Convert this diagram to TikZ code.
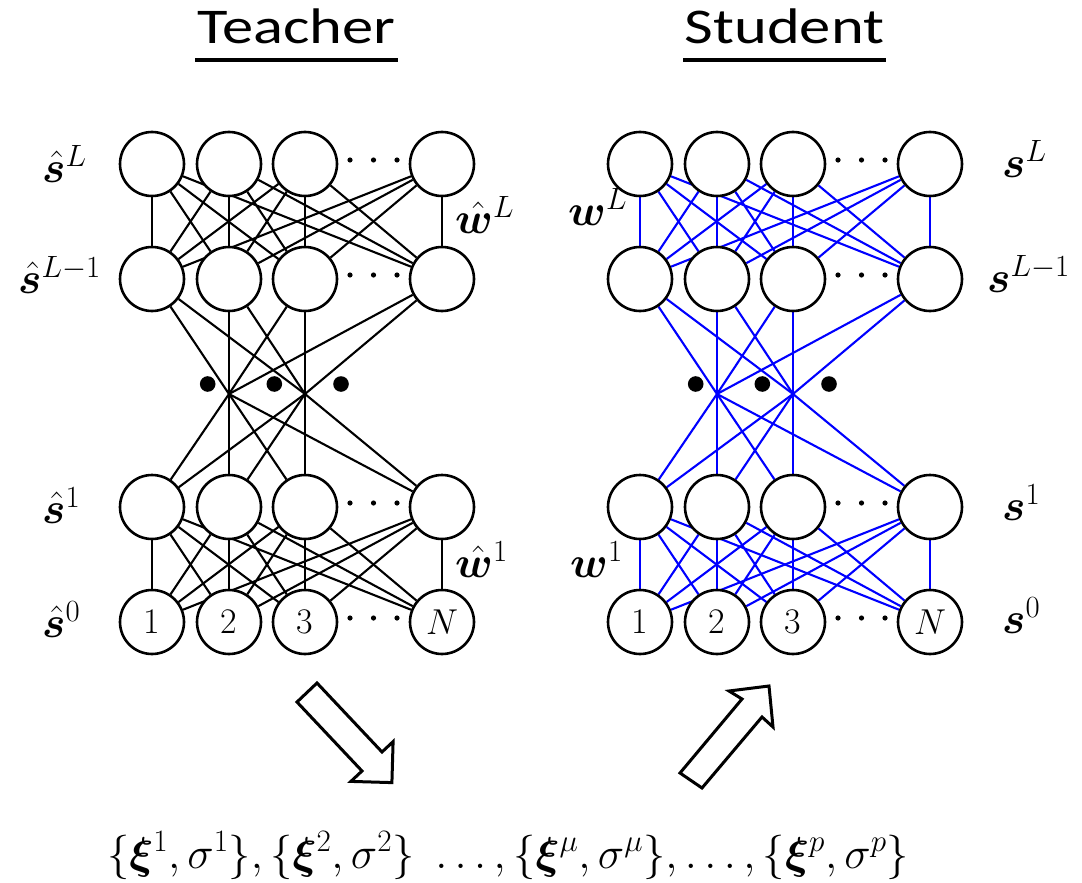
\RequirePackage{fix-cm}
\documentclass[tikz,border=0pt]{standalone}
\usepackage{fontspec}
\usepackage{amsmath}
\usepackage{bm}
\usepackage{graphicx}
\newfontfamily\calibri{Carlito}
\pgfdeclarelayer{edges}
\pgfsetlayers{edges,main}
\begin{document}
\begin{tikzpicture}[x=1pt,y=-1pt,
  neuron/.style={circle,draw,line width=2.6pt,minimum size=64pt,inner sep=0pt,fill=white,font=\fontsize{36}{40}\selectfont},
  wire/.style={line width=2.1pt},
  lbl/.style={inner sep=0pt,font=\fontsize{44}{50}\selectfont},
  title/.style={inner sep=0pt,anchor=base,font=\calibri\fontsize{50}{60}\selectfont},
  bigarrow/.style={draw,line width=3pt,line join=miter,fill=white}
]
\useasboundingbox (0,0) rectangle (1082,883);

% neurons
\foreach \n/\o in {t/0,s/488}{
  \foreach \r/\y in {A/164,B/279,C/507}{
    \foreach \c/\x in {1/152,2/229,3/305,4/442}{
      \node[neuron] (\n\r\c) at (\x+\o,\y) {};
    }
  }
  \node[neuron] (\n D1) at (152+\o,622) {1};
  \node[neuron] (\n D2) at (229+\o,622) {2};
  \node[neuron] (\n D3) at (305+\o,622) {3};
  \node[neuron] (\n D4) at (442+\o,622) {$N$};
  \coordinate (\n P1) at (229+\o,394);
  \coordinate (\n P2) at (305+\o,394);
  % small dots between neuron 3 and N
  \foreach \y in {160,275,503,618}{
    \foreach \x in {350,373.5,397}{
      \fill (\x+\o,\y) circle (2.6pt);
    }
  }
  % big vertical dots
  \foreach \x in {207.7,274.3,341}{
    \fill (\x+\o,384) circle (7.8pt);
  }
}

% connections
\begin{pgfonlayer}{edges}
\foreach \n/\col in {t/black,s/blue}{
  \foreach \i in {1,...,4}{
    \foreach \j in {1,...,4}{
      \draw[wire,\col] (\n A\i) -- (\n B\j);
      \draw[wire,\col] (\n C\i) -- (\n D\j);
    }
    \foreach \p in {1,2}{
      \draw[wire,\col] (\n B\i) -- (\n P\p);
      \draw[wire,\col] (\n C\i) -- (\n P\p);
    }
  }
}
\end{pgfonlayer}

% teacher labels
\node[lbl,anchor=base west] (lt4) at (42,182) {$\hat{\bm{s}}^{L}$};
\node[lbl,anchor=base west] (lt3) at (18,293) {$\hat{\bm{s}}^{L-1}$};
\node[lbl,anchor=base west] (lt1) at (42,523) {$\hat{\bm{s}}^{1}$};
\node[lbl,anchor=base west] (lt0) at (42,637) {$\hat{\bm{s}}^{0}$};
\node[lbl,anchor=base west] (lwtL) at (455,233) {$\hat{\bm{w}}^{L}$};
\node[lbl,anchor=base west] (lwt1) at (455,577) {$\hat{\bm{w}}^{1}$};

% student labels
\node[lbl,anchor=base west] (ls4) at (1002,177) {$\bm{s}^{L}$};
\node[lbl,anchor=base west] (ls3) at (987,292) {$\bm{s}^{L-1}$};
\node[lbl,anchor=base west] (ls1) at (1002,520) {$\bm{s}^{1}$};
\node[lbl,anchor=base west] (ls0) at (1002,633) {$\bm{s}^{0}$};
\node[lbl,anchor=base west] (lwsL) at (568,225) {$\bm{w}^{L}$};
\node[lbl,anchor=base west] (lws1) at (570,577) {$\bm{w}^{1}$};

% titles
\node[title] (tteacher) at (296.5,43.3) {\scalebox{1.25}[1]{Teacher}};
\node[title] (tstudent) at (784.5,43.3) {\scalebox{1.25}[1]{Student}};
\draw[line width=3.2pt] (195,60) -- (398,60);
\draw[line width=3.2pt] (683,60) -- (886,60);

% block arrows
\draw[bigarrow] (297,702) -- (317,683) -- (382,752) -- (393.1,741.6) -- (391.9,782.6) -- (350.9,781.4) -- (362,771) -- cycle;
\draw[bigarrow] (680,773) -- (742,699) -- (729,691) -- (769,686) -- (773,727) -- (762,717) -- (702,788) -- cycle;

% data set
\node[inner sep=0pt,anchor=base,font=\fontsize{44.5}{50}\selectfont] (data) at (508,868)
  {$\{\bm{\xi}^1,\sigma^1\},\{\bm{\xi}^2,\sigma^2\}\ \ldots,\{\bm{\xi}^\mu,\sigma^\mu\},\ldots,\{\bm{\xi}^p,\sigma^p\}$};
\end{tikzpicture}
\end{document}
